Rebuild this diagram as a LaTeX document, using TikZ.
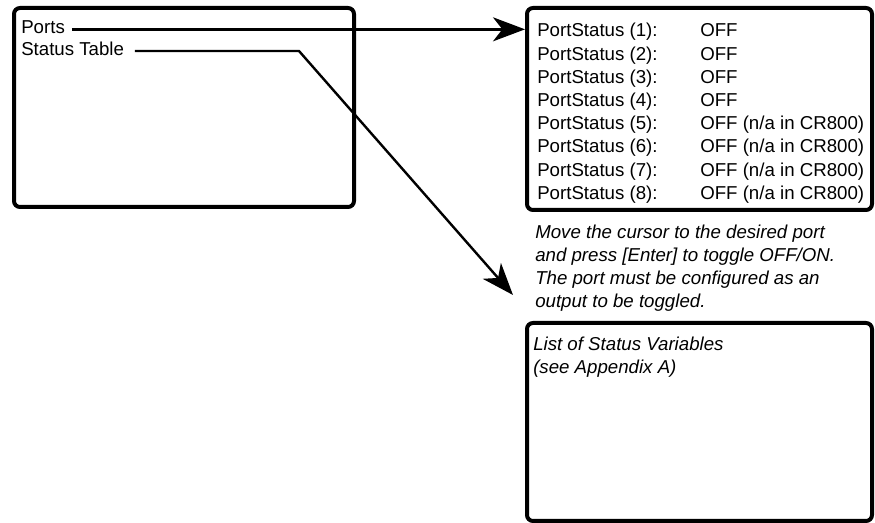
\documentclass[tikz,border=0pt]{standalone}
\usepackage{fontspec}
\setmainfont{Liberation Sans}
\usetikzlibrary{arrows.meta}

\tikzset{
    panel/.style={draw, line width=3pt, rounded corners=4.5pt, anchor=north west, inner sep=0pt},
    menutext/.style={inner sep=0pt, anchor=base west, font=\fontsize{14}{17.4}\selectfont},
    lead/.style={line width=1.8pt, -{Stealth[length=24pt, width=18pt, inset=7pt]}}
}

\begin{document}
\begin{tikzpicture}[x=0.75pt, y=-0.75pt]
    \useasboundingbox (0,0) rectangle (875,523);

    % Boxes (main menu, port status, status table)
    \node[panel, minimum width=255pt, minimum height=149.25pt] (menu) at (12,6) {};
    \node[panel, minimum width=258.75pt, minimum height=151.5pt] (portbox) at (525,6) {};
    \node[panel, minimum width=258.75pt, minimum height=148.5pt] (statbox) at (525,321) {};

    % Menu entries
    \node[menutext] (ports) at (21,34) {Ports};
    \node[menutext] (status) at (21,56) {Status Table};

    % Port status list
    \foreach \i/\val in {1/OFF, 2/OFF, 3/OFF, 4/OFF,
                         5/{OFF (n/a in CR800)}, 6/{OFF (n/a in CR800)},
                         7/{OFF (n/a in CR800)}, 8/{OFF (n/a in CR800)}} {
        \node[menutext] (ps\i) at (537,{37+23.2*(\i-1)}) {PortStatus (\i):};
        \node[menutext] (val\i) at (700,{37+23.2*(\i-1)}) {\val};
    }

    % Note under the port list (base is the last line)
    \node[menutext, align=left, font=\fontsize{14}{17.25}\selectfont\itshape] (note) at (535,308)
        {Move the cursor to the desired port\\
         and press [Enter] to toggle OFF/ON.\\
         The port must be configured as an\\
         output to be toggled.};

    % Status table contents
    \node[menutext, align=left, font=\fontsize{14}{17.8}\selectfont\itshape] (statlist) at (533,374)
        {List of Status Variables\\
         (see Appendix A)};

    % Connectors
    \coordinate (p0) at ([xshift=5pt, yshift=3.5pt]ports.base east);
    \coordinate (s0) at ([xshift=8pt, yshift=3.75pt]status.base east);
    \coordinate (bend) at (299,51);
    \coordinate (s1) at (513,295);
    \draw[lead] (p0) -- (p0 -| portbox.west);
    \draw[lead] (s0) -- (bend) -- (s1);
\end{tikzpicture}
\end{document}
